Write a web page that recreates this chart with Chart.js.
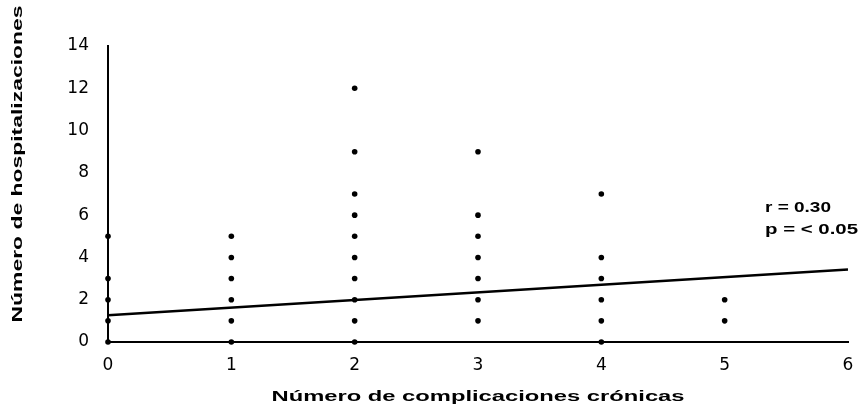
<!DOCTYPE html>
<html>
<head>
<meta charset="utf-8">
<script src="https://cdn.jsdelivr.net/npm/chart.js@4/dist/chart.umd.min.js"></script>
<style>
  html, body { margin: 0; padding: 0; background: #fff; }
  canvas { display: block; }
</style>
</head>
<body>
<canvas id="c" width="866" height="413"></canvas>
<script>
// Number of chronic complications (x) vs number of hospitalisations (y), one entry per patient
const complicaciones   = [0,0,0,0,0, 1,1,1,1,1,1, 2,2,2,2,2,2,2,2,2,2, 3,3,3,3,3,3,3, 4,4,4,4,4,4, 5,5];
const hospitalizaciones = [0,1,2,3,5, 0,1,2,3,4,5, 0,1,2,3,4,5,6,7,9,12, 1,2,3,4,5,6,9, 0,1,2,3,4,7, 1,2];

// Fitted regression line, end points
const rectaX = [0, 6];
const rectaY = [1.27, 3.43];

const xTicks = [0, 1, 2, 3, 4, 5, 6];
const yTicks = [0, 2, 4, 6, 8, 10, 12, 14];

const tituloX = 'Número de complicaciones crónicas';
const tituloY = 'Número de hospitalizaciones';
const estadisticos = ['r = 0.30', 'p = < 0.05'];

const puntos = complicaciones.map((x, i) => ({ x, y: hospitalizaciones[i] }));
const recta = rectaX.map((x, i) => ({ x, y: rectaY[i] }));

// Draws bold text stretched horizontally to a given width
function stretchedText(ctx, text, x, cy, width, size, align, rotate) {
  ctx.save();
  ctx.font = 'bold ' + size + 'px "Liberation Sans", Arial, sans-serif';
  ctx.fillStyle = '#000';
  ctx.textAlign = align;
  ctx.textBaseline = 'middle';
  const w = ctx.measureText(text).width;
  ctx.translate(x, cy);
  if (rotate) ctx.rotate(-Math.PI / 2);
  ctx.scale(width / w, 1);
  ctx.fillText(text, 0, 0);
  ctx.restore();
}

const textos = {
  id: 'textos',
  afterDraw(chart) {
    const ctx = chart.ctx;
    const a = chart.chartArea;
    stretchedText(ctx, tituloX, (a.left + a.right) / 2, 397, 413, 15, 'center', false);
    stretchedText(ctx, tituloY, 18, 164, 317, 15, 'center', true);
    stretchedText(ctx, estadisticos[0], a.right - 83, 208, 66, 15, 'left', false);
    stretchedText(ctx, estadisticos[1], a.right - 83, 230, 93, 15, 'left', false);
  }
};

const fuenteTicks = { family: '"DejaVu Sans", sans-serif', size: 17 };

new Chart(document.getElementById('c'), {
  type: 'scatter',
  data: {
    datasets: [
      {
        data: puntos,
        backgroundColor: '#000',
        borderColor: '#000',
        pointRadius: 2.8,
        pointBorderWidth: 0,
        clip: false,
        order: 1
      },
      {
        type: 'line',
        data: recta,
        borderColor: '#000',
        borderWidth: 2.5,
        pointRadius: 0,
        fill: false,
        tension: 0,
        clip: false,
        order: 2
      }
    ]
  },
  options: {
    responsive: false,
    animation: false,
    devicePixelRatio: 1,
    layout: { padding: { top: 46, right: 18, left: 0, bottom: 0 } },
    plugins: { legend: { display: false }, tooltip: { enabled: false } },
    scales: {
      x: {
        type: 'linear',
        min: 0, max: 6,
        afterBuildTicks(s) { s.ticks = xTicks.map(v => ({ value: v })); },
        afterFit(s) { s.height = 71; },
        grid: { display: false },
        border: { display: true, color: '#000', width: 2 },
        ticks: { padding: 5, color: '#000', font: fuenteTicks }
      },
      y: {
        type: 'linear',
        min: 0, max: 14,
        afterBuildTicks(s) { s.ticks = yTicks.map(v => ({ value: v })); },
        afterFit(s) { s.width = 108; },
        grid: { display: false },
        border: { display: true, color: '#000', width: 2 },
        ticks: { padding: 11, color: '#000', font: fuenteTicks }
      }
    }
  },
  plugins: [textos]
});
</script>
</body>
</html>
